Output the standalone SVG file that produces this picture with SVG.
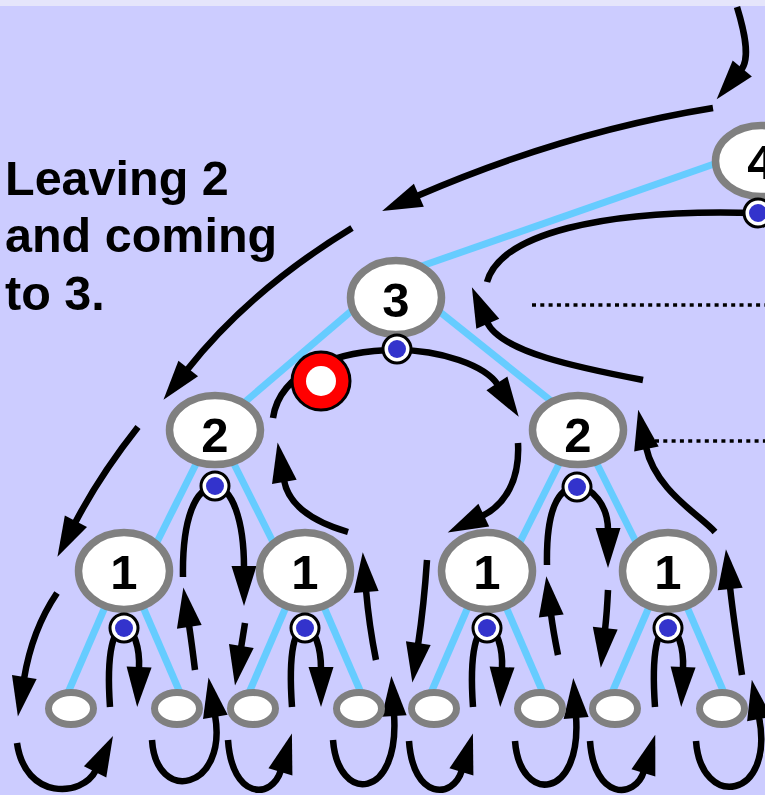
<svg xmlns="http://www.w3.org/2000/svg" width="765" height="795" viewBox="0 0 765 795">
<style>
.edge{stroke:#66CCFF;stroke-width:7;fill:none}
.node{fill:#FFFFFF;stroke:#808080;stroke-width:7.5}
.leaf{fill:#FFFFFF;stroke:#808080;stroke-width:7}
.num{font-family:"Liberation Sans",Arial,sans-serif;font-weight:bold;font-size:49px;text-anchor:middle;fill:#000}
.lbl{font-family:"Liberation Sans",Arial,sans-serif;font-weight:bold;font-size:48.5px;fill:#000}
.arr{fill:none;stroke:#000;stroke-width:6.5;stroke-linecap:butt}
.arrh{fill:none;stroke:#000;stroke-width:6.5;stroke-linecap:butt;marker-end:url(#ah)}
.dotted{fill:none;stroke:#000;stroke-width:3.5;stroke-dasharray:4 4.3}
.dotw{fill:#FFFFFF;stroke:#000;stroke-width:3}
.dotb{fill:#3333CC}
</style>
<defs>
<marker id="ah" markerUnits="userSpaceOnUse" markerWidth="44" markerHeight="30" viewBox="-2 -15 44 30" refX="0" refY="0" orient="auto" overflow="visible">
<path d="M-2,-12.5 L38,0 L-2,12.5 Z" fill="#000"/>
</marker>
</defs>
<rect x="0" y="0" width="765" height="795" fill="#CCCCFF"/>
<rect x="0" y="0" width="765" height="6" fill="#E5E5FB"/>

<g id="label">
<text class="lbl" x="5" y="195">Leaving 2</text>
<text class="lbl" x="5" y="252">and coming</text>
<text class="lbl" x="5" y="310">to 3.</text>
</g>

<g id="tree-edges">
<line class="edge" x1="396" y1="275" x2="760" y2="148"/>
<line class="edge" x1="390" y1="278" x2="225" y2="419"/>
<line class="edge" x1="420" y1="296" x2="560" y2="408"/>
<line class="edge" x1="198" y1="460" x2="154" y2="548"/>
<line class="edge" x1="232" y1="460" x2="276" y2="548"/>
<line class="edge" x1="561" y1="460" x2="517" y2="548"/>
<line class="edge" x1="595" y1="460" x2="639" y2="548"/>
<line class="edge" x1="105" y1="607" x2="67" y2="695"/>
<line class="edge" x1="143" y1="607" x2="181" y2="695"/>
<line class="edge" x1="286" y1="607" x2="248" y2="695"/>
<line class="edge" x1="324" y1="607" x2="362" y2="695"/>
<line class="edge" x1="468" y1="607" x2="430" y2="695"/>
<line class="edge" x1="506" y1="607" x2="544" y2="695"/>
<line class="edge" x1="649" y1="607" x2="611" y2="695"/>
<line class="edge" x1="687" y1="607" x2="725" y2="695"/>
</g>

<g id="connectors">
<path class="arrh" d="M737,7 C744,30 751,58 741,70"/>
<path class="arrh" d="M713,108 Q565,132 417,196"/>
<path class="arrh" d="M352,228 Q250,290 187,370"/>
<path class="arrh" d="M138,427 Q100,475 75,523"/>
<path class="arrh" d="M57,593 Q32,630 24,679"/>
<path class="arrh" d="M17,743 C25,800 82,798 96,770"/>
<path class="arrh" d="M110,707 C106,650 114,628 124,628 C134,628 140,648 139,669"/>
<path class="arrh" d="M152,740 C156,805 228,790 215,715"/>
<path class="arrh" d="M195,670 Q192,645 189,625"/>
<path class="arrh" d="M183,577 C182,520 195,487 215,487 C232,487 244,520 244,568"/>
<path class="arrh" d="M245,623 L241,648"/>
<path class="arrh" d="M228,740 C232,800 272,800 281,770"/>
<path class="arrh" d="M292,707 C288,650 295,628 305,628 C315,628 321,648 321,669"/>
<path class="arrh" d="M333,740 C338,805 400,800 394,714"/>
<path class="arrh" d="M376,660 Q369,625 366,590"/>
<path class="arrh" d="M348,532 Q290,515 284,480"/>
<path class="arrh" d="M273,418 C280,370 340,350 397,350 C440,350 485,365 498,385"/>
<path class="arrh" d="M518,443 C520,480 505,505 482,516"/>
<path class="arrh" d="M427,560 Q424,605 418,645"/>
<path class="arrh" d="M409,741 C413,800 453,800 462,770"/>
<path class="arrh" d="M473,707 C469,650 477,628 487,628 C497,628 503,648 502,669"/>
<path class="arrh" d="M515,741 C520,805 582,800 576,716"/>
<path class="arrh" d="M558,655 Q553,630 551,614"/>
<path class="arrh" d="M547,565 C546,510 558,487 577,487 C592,487 608,505 608,530"/>
<path class="arrh" d="M608,590 Q607,612 605,630"/>
<path class="arrh" d="M590,741 C594,800 635,800 644,771"/>
<path class="arrh" d="M655,707 C651,650 658,628 668,628 C678,628 684,648 683,669"/>
<path class="arrh" d="M696,741 C701,810 775,800 759,717"/>
<path class="arrh" d="M742,675 Q733,615 730,587"/>
<path class="arrh" d="M715,532 C700,515 655,490 646,447"/>
<path class="arrh" d="M643,380 C580,368 500,352 487,322"/>
<path class="arr" d="M758,213 C600,208 500,235 487,282"/>
<line class="dotted" x1="532" y1="305" x2="765" y2="305"/>
<line class="dotted" x1="655" y1="441" x2="765" y2="441"/>
</g>

<g id="node-4">
<ellipse class="node" cx="761" cy="161" rx="45.5" ry="35.5"/>
<text class="num" x="761" y="179">4</text>
<circle class="dotw" cx="758" cy="213" r="14"/><circle class="dotb" cx="758" cy="213" r="9"/>
</g>
<g id="node-3">
<ellipse class="node" cx="396" cy="297.5" rx="45.5" ry="37"/>
<text class="num" x="396" y="317">3</text>
<circle class="dotw" cx="397" cy="349" r="14"/><circle class="dotb" cx="397" cy="349" r="9"/>
</g>
<g id="node-2a">
<ellipse class="node" cx="215" cy="430" rx="45.5" ry="34.5"/>
<text class="num" x="215" y="452">2</text>
<circle class="dotw" cx="215" cy="486" r="14"/><circle class="dotb" cx="215" cy="486" r="9"/>
</g>
<g id="node-2b">
<ellipse class="node" cx="578" cy="430" rx="45.5" ry="34.5"/>
<text class="num" x="578" y="452">2</text>
<circle class="dotw" cx="577" cy="487" r="14"/><circle class="dotb" cx="577" cy="487" r="9"/>
</g>
<g id="node-1a">
<ellipse class="node" cx="124" cy="571" rx="45.5" ry="38.5"/>
<text class="num" x="124" y="589">1</text>
<circle class="dotw" cx="124" cy="628" r="14"/><circle class="dotb" cx="124" cy="628" r="9"/>
</g>
<g id="node-1b">
<ellipse class="node" cx="305" cy="571" rx="45.5" ry="38.5"/>
<text class="num" x="305" y="589">1</text>
<circle class="dotw" cx="305" cy="628" r="14"/><circle class="dotb" cx="305" cy="628" r="9"/>
</g>
<g id="node-1c">
<ellipse class="node" cx="487" cy="571" rx="45.5" ry="38.5"/>
<text class="num" x="487" y="589">1</text>
<circle class="dotw" cx="487" cy="628" r="14"/><circle class="dotb" cx="487" cy="628" r="9"/>
</g>
<g id="node-1d">
<ellipse class="node" cx="668" cy="571" rx="45.5" ry="38.5"/>
<text class="num" x="668" y="589">1</text>
<circle class="dotw" cx="668" cy="628" r="14"/><circle class="dotb" cx="668" cy="628" r="9"/>
</g>
<g id="leaf-1"><ellipse class="leaf" cx="71" cy="708.5" rx="22.5" ry="16"/></g>
<g id="leaf-2"><ellipse class="leaf" cx="177" cy="708.5" rx="22.5" ry="16"/></g>
<g id="leaf-3"><ellipse class="leaf" cx="253" cy="708.5" rx="22.5" ry="16"/></g>
<g id="leaf-4"><ellipse class="leaf" cx="359" cy="708.5" rx="22.5" ry="16"/></g>
<g id="leaf-5"><ellipse class="leaf" cx="434" cy="708.5" rx="22.5" ry="16"/></g>
<g id="leaf-6"><ellipse class="leaf" cx="540" cy="708.5" rx="22.5" ry="16"/></g>
<g id="leaf-7"><ellipse class="leaf" cx="615" cy="708.5" rx="22.5" ry="16"/></g>
<g id="leaf-8"><ellipse class="leaf" cx="722" cy="708.5" rx="22.5" ry="16"/></g>

<g id="current-position">
<circle cx="321" cy="381" r="29" fill="#FF0000" stroke="#000" stroke-width="3"/>
<circle cx="321" cy="381" r="15" fill="#FFFFFF"/>
</g>
</svg>
